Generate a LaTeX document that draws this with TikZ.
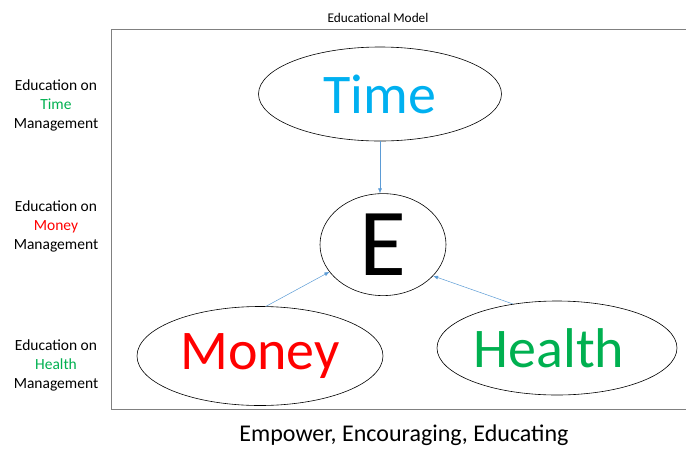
\documentclass[tikz,border=0pt]{standalone}
\usepackage{xcolor}
\usepackage{fontspec}
\setmainfont{Carlito}
\usetikzlibrary{shapes.geometric, arrows.meta, positioning}

\definecolor{timeblue}{HTML}{00B0F0}
\definecolor{healthgreen}{HTML}{00B050}
\definecolor{linkblue}{HTML}{5B9BD5}

\begin{document}
\begin{tikzpicture}[x=1pt, y=-1pt,
    bubble/.style={draw, ellipse, line width=0.6pt, inner sep=0pt},
    side/.style={align=center, font=\fontsize{15.5}{19}\selectfont},
    link/.style={-{Latex[length=5pt,width=4pt]}, draw=linkblue, line width=0.5pt}]
    \useasboundingbox (0,0) rectangle (686,448);

    % frame
    \draw[gray, line width=0.8pt] (700,29) -| (111,409) -- (700,409);
    \node (title) at (378,18) {\fontsize{13.3}{15}\selectfont Educational Model};

    % the four bubbles
    \node (time) [bubble, minimum width=243pt, minimum height=94pt, text=timeblue,
        font=\fontsize{56}{60}\selectfont] at (380,94) {Time};
    \node (e) [bubble, minimum width=126pt, minimum height=102pt,
        font=\fontsize{96}{100}\selectfont, below=52pt of time.south, anchor=north, xshift=3pt] {E};
    \node (money) [bubble, minimum width=246pt, minimum height=99pt, text=red,
        font=\fontsize{56}{60}\selectfont] at (260,356) {Money};
    \node (health) [bubble, minimum width=240pt, minimum height=94pt, text=healthgreen,
        font=\fontsize{56}{60}\selectfont] at (557,348) {\hspace*{-16pt}Health};

    \draw[link] (time.south) -- (time.south |- e.north);
    \draw[link] (money.83) -- (e.207);
    \draw[link] (health.135) -- (e.328);

    % side notes
    \node (tnote) [side] at (56,105) {Education on\\\textcolor{healthgreen}{Time}\\Management};
    \node (mnote) [side] at (56,226) {Education on\\\textcolor{red}{Money}\\Management};
    \node (hnote) [side] at (56,365) {Education on\\\textcolor{healthgreen}{Health}\\Management};

    \node (motto) at (404,435) {\fontsize{24}{27}\selectfont Empower, Encouraging, Educating};
\end{tikzpicture}
\end{document}
